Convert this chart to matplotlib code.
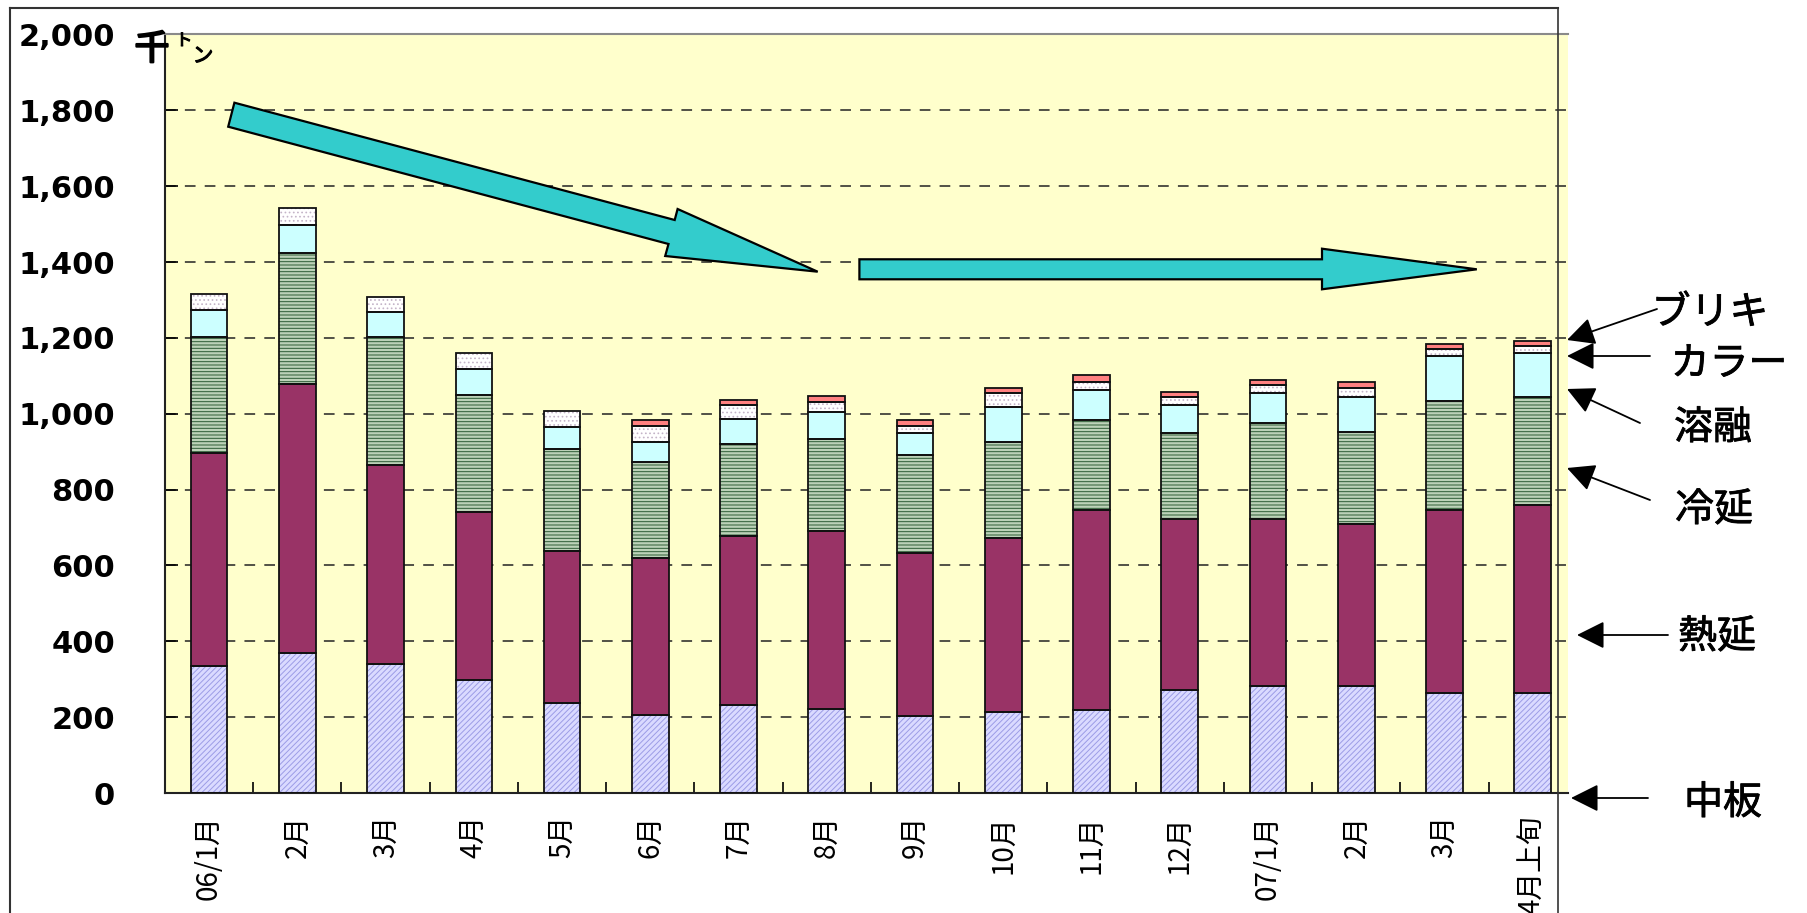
import matplotlib
matplotlib.use('Agg')
import matplotlib.pyplot as plt
from matplotlib.patches import Polygon, FancyArrowPatch
from matplotlib.lines import Line2D
import matplotlib.patheffects as pe
import numpy as np

plt.rcParams['font.family'] = ['Noto Sans CJK JP', 'DejaVu Sans']
plt.rcParams['hatch.linewidth'] = 0.7

# ---------------- data ----------------
categories = ['06/1月', '2月', '3月', '4月', '5月', '6月', '7月', '8月', '9月',
              '10月', '11月', '12月', '07/1月', '2月', '3月', '4月上旬']
chuban  = [334, 370, 341, 299, 237, 206, 232, 221, 203, 214, 219, 272, 282, 282, 263, 263]
netsuen = [563, 708, 524, 441, 402, 413, 445, 470, 431, 459, 526, 450, 440, 427, 482, 496]
reien   = [305, 346, 337, 309, 269, 254, 243, 243, 258, 253, 239, 226, 253, 243, 289, 285]
youyu   = [71, 73, 67, 68, 56, 52, 67, 70, 58, 93, 78, 75, 80, 92, 117, 115]
karaa   = [43, 46, 40, 43, 43, 43, 35, 26, 18, 36, 22, 20, 20, 25, 21, 20]
buriki  = [0, 0, 0, 0, 0, 15, 14, 18, 15, 14, 17, 15, 15, 15, 11, 14]
series_names = ['中板', '熱延', '冷延', '溶融', 'カラー', 'ブリキ']
y_ticks = list(range(0, 2001, 200))

W, H = 1807, 913
fig = plt.figure(figsize=(W / 100, H / 100), dpi=100)
ax = fig.add_axes([165 / W, 1 - 793 / H, (1568 - 165) / W, (793 - 34.5) / H])
ax.set_facecolor('#FFFFCC')

x = np.arange(len(categories))
width = 0.415
series = [chuban, netsuen, reien, youyu, karaa, buriki]
styles = [
    dict(face='#DADAFF', hatch='//////', hc='#9C9CE6'),
    dict(face='#993366', hatch=None, hc='#993366'),
    dict(face='#BCD2B8', hatch='-----', hc='#2E5C36'),
    dict(face='#CCFFFF', hatch=None, hc='#CCFFFF'),
    dict(face='#FFFFFF', hatch='....', hc='#C4B4C8'),
    dict(face='#FF8080', hatch=None, hc='#FF8080'),
]
bottom = np.zeros(len(categories))
for vals, st in zip(series, styles):
    v = np.array(vals, dtype=float)
    m = v > 0
    ax.bar(x[m], v[m], width, bottom=bottom[m], color=st['face'],
           edgecolor=st['hc'], hatch=st['hatch'], linewidth=0, zorder=2)
    ax.bar(x[m], v[m], width, bottom=bottom[m], fill=False,
           edgecolor='#111111', linewidth=1.3, zorder=3)
    bottom += v

ax.set_xlim(-0.5, 15.4)
ax.set_ylim(0, 2000)
ax.set_yticks(y_ticks)
ax.set_yticklabels([f'{v:,}' for v in y_ticks], fontsize=22, fontweight='bold',
                   family='DejaVu Sans')
ax.tick_params(axis='y', direction='in', length=9, width=1.2, pad=36)
ax.grid(axis='y', color='#222222', linewidth=1.1, linestyle=(0, (7, 6)))
ax.set_axisbelow(True)

ax.set_xticks(x)
ax.set_xticklabels(categories, rotation=90, fontsize=20, va='top', ha='center')
ax.set_xticks(np.arange(0.5, 15, 1), minor=True)
ax.tick_params(axis='x', which='major', length=0, pad=16)
ax.tick_params(axis='x', which='minor', direction='in', length=8, width=1.2)

ax.spines['right'].set_visible(False)
ax.spines['top'].set_color('#8a8a8a')
ax.spines['top'].set_linewidth(1.5)
ax.spines['left'].set_color('#222222')
ax.spines['left'].set_linewidth(1.5)
ax.spines['bottom'].set_color('#222222')
ax.spines['bottom'].set_linewidth(1.5)


def px(xp, yp):
    return (xp / W, 1 - yp / H)


# outer frame
fig.add_artist(Line2D([10 / W, 1558 / W], [1 - 8 / H] * 2, color='#333333', lw=1.5, zorder=6))
fig.add_artist(Line2D([10 / W] * 2, [1 - 8 / H, 0], color='#333333', lw=1.5, zorder=6))
fig.add_artist(Line2D([1558 / W] * 2, [1 - 8 / H, 0], color='#333333', lw=1.2, zorder=6))

# unit label
bold = [pe.withStroke(linewidth=1.6, foreground='black')]
fig.text(*px(152, 50), '千', fontsize=25, ha='center', va='center', zorder=7,
         path_effects=bold)
fig.text(*px(184, 41), 'ト', fontsize=12, ha='center', va='center', zorder=7,
         path_effects=[pe.withStroke(linewidth=0.8, foreground='black')])
fig.text(*px(203, 56), 'ン', fontsize=15, ha='center', va='center', zorder=7,
         path_effects=[pe.withStroke(linewidth=0.8, foreground='black')])

# big trend arrows
arrow1 = [(234.4, 102.7), (674.7, 220), (677.6, 209), (817.7, 271.7),
          (665.2, 256), (668.5, 244), (228.2, 126.7)]
arrow2 = [(859.4, 259.3), (1322, 259.3), (1322, 248.7), (1476.8, 269.3),
          (1322, 289.3), (1322, 279.3), (859.4, 279.3)]
for poly in (arrow1, arrow2):
    fig.add_artist(Polygon([px(a, b) for a, b in poly], closed=True,
                           transform=fig.transFigure, facecolor='#33CCCC',
                           edgecolor='black', linewidth=1.6, zorder=5))

# right-hand labels with arrows
labels = [
    ('ブリキ', (1710, 313), (1657, 309), (1567, 340)),
    ('カラー', (1729, 364), (1650, 356), (1567, 356)),
    ('溶融', (1713, 428), (1640, 423), (1567, 389)),
    ('冷延', (1714, 510), (1650, 500), (1567, 468)),
    ('熱延', (1717, 637), (1668, 635), (1577, 635)),
    ('中板', (1723, 803), (1648, 798), (1571, 798)),
]
for s, tpos, a, b in labels:
    fig.text(*px(*tpos), s, fontsize=28, ha='center', va='center',
             path_effects=[pe.withStroke(linewidth=0.6, foreground='black')])
    fig.add_artist(FancyArrowPatch(px(*a), px(*b), transform=fig.transFigure,
                                   arrowstyle='-|>,head_length=1.0,head_width=0.5',
                                   mutation_scale=17, color='black', lw=1.3,
                                   shrinkA=0, shrinkB=0, zorder=6))

fig.savefig('out.png', dpi=100)
